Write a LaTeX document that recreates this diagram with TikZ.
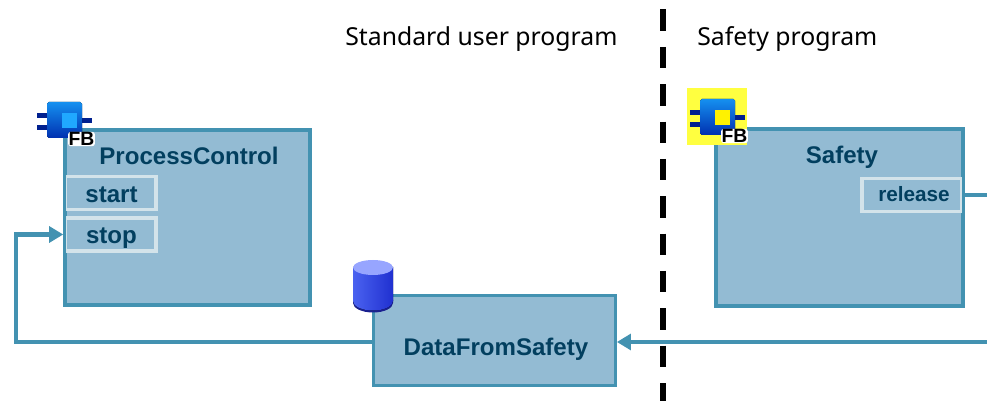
\documentclass[tikz,border=0pt]{standalone}
\usepackage{fontspec}
\setmainfont{Liberation Sans}
\newfontfamily\headfont{Noto Sans}
\usetikzlibrary{arrows.meta}

\definecolor{boxfill}{HTML}{93BBD3}
\definecolor{boxline}{HTML}{4392B1}
\definecolor{boxtext}{HTML}{023F5F}
\definecolor{portline}{HTML}{D3E3EA}
\definecolor{fbtop}{HTML}{1590F0}
\definecolor{fbbottom}{HTML}{0030B0}
\definecolor{fbpin}{HTML}{00208F}
\definecolor{fbinner}{HTML}{20A8FF}
\definecolor{fbback}{HTML}{FFFF40}
\definecolor{dbtop}{HTML}{97A5FF}
\definecolor{dbleft}{HTML}{4A62F0}
\definecolor{dbright}{HTML}{2030D0}
\definecolor{dbrim}{HTML}{1A2090}

\tikzset{
	blockbox/.style={draw=boxline, fill=boxfill, line width=1.6pt, inner sep=0pt},
	blockname/.style={text=boxtext, font=\fontsize{13.7pt}{16pt}\selectfont\bfseries, inner sep=0pt, anchor=base},
	portbox/.style={draw=portline, fill=boxfill, line width=2pt, inner sep=0pt},
	headtext/.style={font=\headfont\fontsize{14.1pt}{17pt}\selectfont, inner sep=0pt, anchor=base west},
	signal/.style={draw=boxline, line width=2.7pt},
	signaltip/.style={-{Triangle[length=8pt, width=9pt]}}
}

% function block symbol, #1 = name, #2 = colour of the inner square
\newcommand{\fbsymbol}[2]{
	\fill[fbpin] (37, 113) rectangle (48, 118);
	\fill[fbpin] (37, 125) rectangle (48, 130);
	\fill[fbpin] (80, 118) rectangle (92, 123);
	\fill[top color=fbtop, bottom color=fbbottom, rounded corners=1pt] (47, 102) rectangle (82, 138);
	\fill[#2] (62, 113) rectangle (77, 128);
	\node (#1) [fill=white, rounded corners=1.5pt, text=black, inner sep=0.3pt, font=\fontsize{11pt}{12pt}\selectfont\bfseries] at (81.5, 139) {FB};
}

\begin{document}
\begin{tikzpicture}[x=0.02cm, y=-0.02cm]
	\useasboundingbox (0, 0) rectangle (987, 401);

	\node (stdLabel) [headtext] at (345, 46) {Standard user program};
	\node (safeLabel) [headtext] at (697, 46) {Safety program};

	\coordinate (sepTop) at (663, 9.5);
	\coordinate (sepBottom) at (663, 401);
	\draw[black, line width=2.9pt, dash pattern=on 21.5 * 0.567pt off 16 * 0.567pt] (sepTop) -- (sepBottom);

	% blocks
	\node (process) [blockbox, minimum width=4.86cm, minimum height=3.48cm] at (187.5, 217.5) {};
	\node (safety) [blockbox, minimum width=4.9cm, minimum height=3.52cm] at (839.5, 217.5) {};
	\node (data) [blockbox, minimum width=4.84cm, minimum height=1.8cm] at (494.5, 340.5) {};

	% ports
	\node (start) [portbox, minimum width=1.82cm, minimum height=0.66cm] at (110.5, 193) {};
	\node (stop) [portbox, minimum width=1.82cm, minimum height=0.66cm] at (110.5, 234.5) {};
	\node (release) [portbox, minimum width=2cm, minimum height=0.66cm] at (912, 195) {};

	% outlines again, over the ends of the ports
	\draw[draw=boxline, line width=1.6pt] (process.south west) rectangle (process.north east);
	\draw[draw=boxline, line width=1.6pt] (safety.south west) rectangle (safety.north east);

	\node (processName) [blockname] at (189, 165) {ProcessControl};
	\node (safetyName) [blockname] at (842, 164) {Safety};
	\node (dataName) [blockname] at (496, 356) {DataFromSafety};
	\node (startName) [blockname] at (111.5, 203) {start};
	\node (stopName) [blockname] at (111.5, 244) {stop};
	\node (releaseName) [blockname, font=\fontsize{11.8pt}{14pt}\selectfont\bfseries] at (914, 201.5) {release};

	% connectors
	\coordinate (loopCorner) at (16, 342);
	\coordinate (rightIn) at (987, 342);
	\coordinate (rightOut) at (987, 195);
	\draw[signal, signaltip] (loopCorner -| data.west) -- (loopCorner) |- (stop.west);
	\draw[signal, signaltip] (rightIn) -- (rightIn -| data.east);
	\draw[signal] (rightOut -| safety.east) -- (rightOut);

	% symbols
	\fbsymbol{fbProcess}{fbinner}
	\fill[fbback] (687, 88) rectangle (747, 145);
	\begin{scope}[shift={(653, -3)}]
		\fbsymbol{fbSafety}{yellow}
	\end{scope}

	\fill[dbrim] (353, 300) -- (353, 303) arc[x radius=20, y radius=-9.5, start angle=180, end angle=360] -- (393, 300) -- cycle;
	\fill[left color=dbleft, right color=dbright] (353, 267) -- (353, 301) arc[x radius=20, y radius=-9.5, start angle=180, end angle=360] -- (393, 267) -- cycle;
	\fill[dbtop] (373, 267.5) ellipse[x radius=20, y radius=7.5];
\end{tikzpicture}
\end{document}
